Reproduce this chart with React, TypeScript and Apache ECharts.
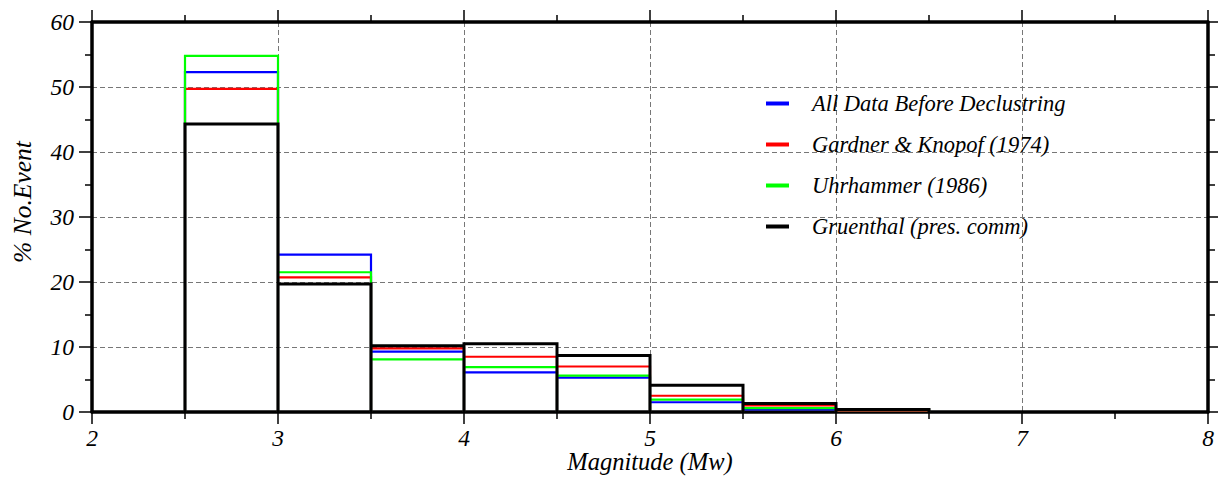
import React, { useEffect, useRef } from "react";
import * as echarts from "echarts";

const binStarts = [2.5, 3, 3.5, 4, 4.5, 5, 5.5, 6];
const binWidth = 0.5;
const allData = [52.3, 24.2, 9.3, 6.1, 5.3, 1.5, 0.4, 0.2];
const gardner = [49.7, 20.7, 9.8, 8.5, 7.0, 2.5, 1.0, 0.2];
const uhrhammer = [54.8, 21.5, 8.1, 6.9, 5.6, 1.9, 0.6, 0.3];
const gruenthal = [44.3, 19.7, 10.2, 10.5, 8.7, 4.1, 1.3, 0.4];

const seriesNames = [
  "All Data Before Declustring",
  "Gardner & Knopof (1974)",
  "Uhrhammer (1986)",
  "Gruenthal (pres. comm)",
];
const seriesColors = ["#0000ff", "#ff0000", "#00ff00", "#000000"];
const seriesValues = [allData, gardner, uhrhammer, gruenthal];

function outline(values: number[]): number[][] {
  const pts: number[][] = [];
  values.forEach((h, i) => {
    const x0 = binStarts[i];
    const x1 = x0 + binWidth;
    pts.push([x0, 0], [x0, h], [x1, h], [x1, 0]);
  });
  return pts;
}

const FONT = "'Liberation Serif', 'DejaVu Serif', serif";

export default function App() {
  const ref = useRef<HTMLDivElement>(null);
  useEffect(() => {
    if (!ref.current) return;
    const chart = echarts.init(ref.current, undefined, { renderer: "svg" });
    const frameLine = { show: true, onZero: false, lineStyle: { color: "#000", width: 3.5 } };
    const xCommon = {
      type: "value" as const,
      min: 2,
      max: 8,
      interval: 1,
      axisLine: frameLine,
      axisTick: { show: true, inside: false, length: 12, lineStyle: { color: "#000", width: 1.5 } },
      minorTick: { show: true, splitNumber: 2, length: 7, lineStyle: { color: "#000", width: 1.5 } },
    };
    const yCommon = {
      type: "value" as const,
      min: 0,
      max: 60,
      interval: 10,
      axisLine: frameLine,
      axisTick: { show: true, inside: false, length: 13, lineStyle: { color: "#000", width: 1.5 } },
      minorTick: { show: true, splitNumber: 2, length: 7, lineStyle: { color: "#000", width: 1.5 } },
    };
    const labelStyle = {
      fontFamily: FONT,
      fontStyle: "italic",
      fontSize: 23.5,
      color: "#000",
    };
    chart.setOption({
      animation: false,
      backgroundColor: "#ffffff",
      grid: {
        left: 92,
        right: 10,
        top: 22,
        bottom: 67,
        containLabel: false,
        outerBoundsMode: "none",
      },
      legend: {
        orient: "vertical",
        left: 766,
        top: 92,
        padding: 0,
        icon: "rect",
        itemWidth: 23,
        itemHeight: 4,
        itemGap: 18,
        data: seriesNames,
        textStyle: {
          fontFamily: FONT,
          fontStyle: "italic",
          fontSize: 22.5,
          color: "#000",
          lineHeight: 22,
          padding: [0, 0, 0, 18],
        },
      },
      xAxis: [
        {
          ...xCommon,
          position: "bottom",
          name: "Magnitude (Mw)",
          nameLocation: "middle",
          nameGap: 36,
          nameMoveOverlap: false,
          nameTextStyle: {
            fontFamily: FONT,
            fontStyle: "italic",
            fontSize: 24.5,
            lineHeight: 27,
            color: "#000",
          },
          axisLabel: { ...labelStyle, lineHeight: 19, margin: 16 },
          splitLine: { show: true, lineStyle: { color: "#777", width: 1, type: [5, 3] } },
        },
        {
          ...xCommon,
          position: "top",
          axisLabel: { show: false },
          splitLine: { show: false },
        },
      ],
      yAxis: [
        {
          ...yCommon,
          position: "left",
          name: "% No.Event",
          nameLocation: "middle",
          nameGap: 57,
          nameMoveOverlap: false,
          nameTextStyle: {
            fontFamily: FONT,
            fontStyle: "italic",
            fontSize: 25.5,
            color: "#000",
            padding: [0, 0, 0, 30],
          },
          axisLabel: { ...labelStyle, margin: 18 },
          splitLine: { show: true, lineStyle: { color: "#777", width: 1, type: [5, 3] } },
        },
        {
          ...yCommon,
          position: "right",
          axisLabel: { show: false },
          splitLine: { show: false },
        },
      ],
      series: seriesValues.map((vals, i) => ({
        name: seriesNames[i],
        type: "line",
        xAxisIndex: 0,
        yAxisIndex: 0,
        color: seriesColors[i],
        data: outline(vals),
        symbol: "none",
        z: 3 + i,
        lineStyle: { color: seriesColors[i], width: i === 3 ? 3 : 2.2, join: "miter" },
      })),
    });
    return () => chart.dispose();
  }, []);
  return (
    <div
      ref={ref}
      style={{ position: "fixed", left: 0, top: 0, width: 1218, height: 479, background: "#fff" }}
    />
  );
}
